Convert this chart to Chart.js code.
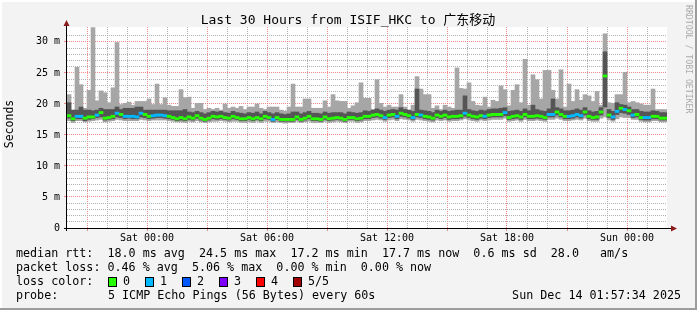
<!DOCTYPE html>
<html lang="en">
<head>
  <meta charset="UTF-8" />
  <title>Last 30 Hours from ISIF_HKC to 广东移动</title>
  <script src="https://cdn.jsdelivr.net/npm/chart.js"></script>
  <style>
    html, body { margin: 0; padding: 0; background: #f3f3f3; }
    #wrap { width: 697px; height: 310px; }
  </style>
</head>
<body>
  <div id="wrap"><canvas id="smokeChart" width="697" height="310"></canvas></div>

  <script>
    // 12-minute steps, 150 of them, starting Fri 20:00
    const stepHours = 0.2;

    const maxRtt = [
      21.5, 19.0, 25.9, 23.1, 19.3, 22.2, 32.3, 20.5, 22.1, 21.8,
      20.2, 22.6, 29.9, 19.9, 20.1, 20.3, 19.8, 20.4, 20.4, 20.4,
      20.8, 19.9, 23.2, 19.9, 21.0, 19.8, 19.6, 19.6, 22.3, 21.0,
      21.1, 19.3, 20.1, 20.1, 19.1, 19.3, 19.1, 19.3, 19.0, 20.0,
      19.3, 19.5, 19.3, 19.6, 19.1, 19.5, 19.5, 20.0, 19.3, 19.1,
      19.5, 19.5, 19.5, 19.0, 18.8, 19.5, 23.2, 19.5, 19.5, 20.8,
      20.8, 19.3, 19.3, 19.3, 20.5, 19.5, 21.5, 20.5, 20.4, 20.4,
      19.3, 19.7, 20.2, 23.4, 20.9, 20.9, 19.1, 23.9, 20.1, 19.5,
      19.8, 19.5, 19.5, 21.5, 19.5, 19.0, 19.8, 24.4, 22.4, 21.5,
      21.5, 19.3, 19.7, 19.1, 19.8, 19.5, 19.3, 25.8, 22.5, 22.4,
      23.4, 20.4, 19.8, 19.7, 21.1, 19.5, 20.6, 20.4, 22.9, 22.3,
      19.7, 22.2, 23.1, 20.2, 27.2, 19.8, 24.7, 23.9, 20.8, 25.4,
      25.4, 22.2, 20.8, 25.5, 19.5, 23.2, 20.4, 22.3, 20.6, 21.5,
      21.3, 20.4, 22.0, 19.8, 31.3, 20.2, 20.1, 21.5, 21.5, 25.1,
      20.2, 20.4, 20.2, 20.0, 19.8, 19.8, 22.4, 19.1, 19.1, 19.1
    ];

    const upperRtt = [
      20.2, 19.0, 19.0, 19.5, 19.0, 19.0, 18.9, 19.0, 19.3, 19.1,
      19.1, 19.1, 19.5, 19.1, 19.3, 19.3, 19.3, 19.5, 19.5, 19.0,
      19.0, 19.0, 19.0, 19.0, 19.0, 18.9, 18.9, 18.9, 18.9, 19.1,
      18.7, 18.6, 18.8, 18.6, 18.4, 18.6, 18.8, 18.7, 18.8, 18.6,
      18.5, 18.8, 18.6, 18.5, 18.4, 18.6, 18.5, 18.7, 18.4, 18.8,
      18.6, 18.4, 18.6, 18.4, 18.3, 18.4, 18.7, 18.7, 18.4, 18.6,
      18.8, 18.5, 18.5, 18.4, 18.7, 18.5, 18.6, 18.6, 18.6, 18.4,
      18.7, 18.6, 18.5, 18.6, 18.9, 18.8, 19.0, 19.2, 19.0, 18.8,
      19.0, 19.1, 19.0, 19.4, 19.1, 19.0, 18.8, 22.4, 19.0, 18.9,
      18.8, 18.6, 19.0, 18.8, 19.0, 18.8, 18.9, 19.0, 19.0, 21.3,
      19.1, 18.9, 18.8, 19.0, 18.9, 19.1, 19.2, 19.2, 19.3, 19.4,
      18.8, 18.9, 19.0, 18.8, 19.2, 18.9, 19.8, 19.1, 18.9, 18.8,
      19.2, 20.8, 19.4, 19.2, 18.9, 18.9, 19.0, 19.2, 19.0, 19.4,
      18.9, 18.7, 18.8, 19.4, 28.4, 19.1, 18.8, 20.2, 19.9, 19.8,
      19.5, 19.1, 19.1, 18.8, 18.7, 18.7, 18.9, 18.8, 18.6, 18.6
    ];

    const medianRtt = [
      18.1, 17.6, 18.0, 18.0, 17.7, 17.9, 17.9, 18.2, 18.6, 17.7,
      17.8, 18.0, 18.5, 18.3, 18.0, 18.0, 18.0, 17.9, 18.5, 18.3,
      18.0, 18.1, 18.2, 18.2, 18.1, 18.0, 17.8, 17.6, 17.8, 17.6,
      17.9, 17.7, 18.1, 17.7, 17.5, 17.7, 18.0, 17.9, 18.0, 17.8,
      17.7, 18.0, 17.8, 17.6, 17.6, 17.8, 17.6, 17.8, 17.6, 18.0,
      17.8, 17.5, 17.8, 17.5, 17.5, 17.5, 17.5, 17.9, 17.5, 17.7,
      18.0, 17.6, 17.6, 17.5, 17.9, 17.6, 17.7, 17.8, 17.7, 17.5,
      17.8, 17.8, 17.6, 17.7, 18.0, 18.0, 18.2, 18.3, 18.1, 17.8,
      18.2, 18.3, 18.0, 18.5, 18.3, 18.1, 17.8, 18.3, 18.2, 18.0,
      17.9, 17.7, 18.2, 18.0, 18.2, 17.9, 18.0, 18.0, 18.1, 18.5,
      18.2, 18.0, 17.9, 18.1, 18.0, 18.2, 18.3, 18.3, 18.3, 18.6,
      17.8, 18.0, 18.1, 17.9, 18.3, 18.0, 18.0, 18.1, 18.0, 17.8,
      18.3, 18.3, 18.7, 18.3, 18.0, 18.0, 18.1, 18.3, 18.1, 18.7,
      18.0, 17.8, 17.9, 18.7, 24.5, 18.2, 17.9, 18.8, 19.3, 19.1,
      18.9, 18.2, 18.3, 17.8, 17.8, 17.8, 18.0, 18.0, 17.7, 17.7
    ];

    const lowerRtt = [
      17.7, 17.3, 17.6, 17.6, 17.3, 17.5, 17.6, 17.8, 17.9, 17.4,
      17.5, 17.6, 17.9, 17.8, 17.6, 17.7, 17.6, 17.6, 17.9, 17.8,
      17.6, 17.7, 17.8, 17.8, 17.7, 17.6, 17.5, 17.3, 17.4, 17.3,
      17.5, 17.4, 17.7, 17.4, 17.2, 17.4, 17.6, 17.5, 17.6, 17.5,
      17.4, 17.6, 17.5, 17.3, 17.3, 17.5, 17.3, 17.5, 17.3, 17.6,
      17.5, 17.2, 17.5, 17.2, 17.2, 17.2, 17.2, 17.5, 17.2, 17.4,
      17.6, 17.3, 17.3, 17.2, 17.5, 17.3, 17.4, 17.5, 17.4, 17.2,
      17.5, 17.5, 17.3, 17.4, 17.6, 17.6, 17.8, 17.9, 17.7, 17.5,
      17.8, 17.9, 17.6, 18.0, 17.9, 17.7, 17.5, 17.9, 17.8, 17.6,
      17.5, 17.4, 17.8, 17.6, 17.8, 17.5, 17.6, 17.6, 17.7, 18.0,
      17.8, 17.6, 17.5, 17.7, 17.6, 17.8, 17.9, 17.9, 17.9, 18.1,
      17.5, 17.6, 17.7, 17.5, 17.9, 17.6, 17.6, 17.7, 17.6, 17.5,
      17.9, 17.9, 18.2, 17.9, 17.6, 17.6, 17.7, 17.9, 17.7, 18.2,
      17.6, 17.5, 17.5, 18.2, 19.5, 17.8, 17.5, 18.3, 18.6, 18.5,
      18.3, 17.8, 17.9, 17.5, 17.4, 17.4, 17.6, 17.6, 17.4, 17.4
    ];

    const minRtt = [
      17.3, 17.0, 17.3, 17.3, 17.1, 17.2, 17.3, 17.4, 17.5, 17.1,
      17.2, 17.3, 17.5, 17.4, 17.3, 17.3, 17.3, 17.3, 17.5, 17.4,
      17.3, 17.4, 17.4, 17.4, 17.4, 17.3, 17.2, 17.1, 17.1, 17.0,
      17.2, 17.1, 17.3, 17.1, 17.0, 17.1, 17.2, 17.2, 17.3, 17.2,
      17.1, 17.2, 17.2, 17.0, 17.0, 17.1, 17.0, 17.2, 17.0, 17.2,
      17.2, 17.0, 17.1, 17.0, 16.9, 17.0, 17.0, 17.2, 17.0, 17.1,
      17.2, 17.0, 17.0, 17.0, 17.2, 17.0, 17.1, 17.2, 17.1, 17.0,
      17.2, 17.2, 17.0, 17.1, 17.3, 17.3, 17.4, 17.5, 17.4, 17.2,
      17.4, 17.5, 17.3, 17.6, 17.5, 17.4, 17.2, 17.5, 17.4, 17.3,
      17.2, 17.1, 17.4, 17.3, 17.4, 17.2, 17.3, 17.3, 17.4, 17.6,
      17.4, 17.3, 17.2, 17.4, 17.3, 17.4, 17.5, 17.5, 17.5, 17.7,
      17.2, 17.3, 17.4, 17.2, 17.5, 17.3, 17.3, 17.4, 17.3, 17.2,
      17.5, 17.5, 17.7, 17.5, 17.3, 17.3, 17.4, 17.5, 17.4, 17.7,
      17.3, 17.2, 17.2, 17.7, 17.9, 17.4, 17.2, 17.6, 17.9, 17.8,
      17.8, 17.5, 17.5, 17.2, 17.1, 17.1, 17.3, 17.3, 17.1, 17.1
    ];

    // pings lost out of 5 for each step (colour of the median)
    const lossCount = [
      0, 0, 1, 1, 0, 0, 0, 1, 0, 0,
      0, 0, 1, 0, 1, 1, 1, 1, 1, 0,
      0, 1, 1, 1, 1, 0, 0, 0, 0, 0,
      0, 0, 0, 0, 0, 0, 0, 0, 0, 0,
      0, 0, 0, 0, 0, 0, 0, 0, 0, 0,
      0, 1, 0, 0, 0, 0, 0, 0, 0, 0,
      0, 0, 0, 0, 0, 0, 0, 0, 0, 0,
      0, 0, 0, 0, 0, 0, 0, 0, 0, 1,
      0, 0, 1, 0, 0, 0, 1, 0, 1, 0,
      0, 0, 0, 0, 0, 0, 0, 0, 0, 1,
      0, 0, 0, 0, 1, 0, 0, 0, 0, 1,
      0, 0, 0, 0, 0, 0, 0, 0, 0, 0,
      1, 1, 0, 0, 0, 1, 1, 1, 1, 0,
      0, 0, 0, 0, 0, 0, 1, 1, 0, 1,
      0, 1, 0, 0, 1, 1, 0, 0, 0, 0
    ];

    const lossColors = ["#26ff00", "#00b8ff", "#0059ff", "#7e00ff", "#ff0000", "#a10000"];
    const lossLabels = ["0", "1", "2", "3", "4", "5/5"];

    const tickHours = [4, 10, 16, 22, 28];
    const tickLabels = ["Sat 00:00", "Sat 06:00", "Sat 12:00", "Sat 18:00", "Sun 00:00"];

    const titleText = "Last 30 Hours from ISIF_HKC to 广东移动";
    const statLines = [
      "median rtt:  18.0 ms avg  24.5 ms max  17.2 ms min  17.7 ms now  0.6 ms sd  28.0   am/s",
      "packet loss: 0.46 % avg  5.06 % max  0.00 % min  0.00 % now"
    ];
    const probeText = "5 ICMP Echo Pings (56 Bytes) every 60s";
    const stampText = "Sun Dec 14 01:57:34 2025";

    const mono = "'DejaVu Sans Mono', 'Noto Sans CJK SC', monospace";
    const medianHalf = 0.18;

    const xs = medianRtt.map((_, i) => i * stepHours + stepHours / 2);
    const span = (lo, hi) => xs.map((x, i) => ({ x, y: [lo[i], hi[i]] }));

    const gridMinor = "rgba(170,170,170,0.9)";
    const gridMajor = "rgba(240,110,110,0.8)";

    // fond, cadre et textes autour du graphe
    const rrdFrame = {
      id: "rrdFrame",
      beforeDraw(chart) {
        const { ctx, chartArea: a } = chart;
        ctx.save();
        ctx.fillStyle = "#f3f3f3";
        ctx.fillRect(0, 0, chart.width, chart.height);
        ctx.fillStyle = "#ffffff";
        ctx.fillRect(0, 0, chart.width, 2);
        ctx.fillRect(0, 0, 2, chart.height);
        ctx.fillStyle = "#9c9c9c";
        ctx.fillRect(0, chart.height - 2, chart.width, 2);
        ctx.fillRect(chart.width - 2, 0, 2, chart.height);
        ctx.fillStyle = "#ffffff";
        ctx.fillRect(a.left, a.top, a.right - a.left, a.bottom - a.top);
        ctx.restore();
      },
      afterDraw(chart) {
        const { ctx, chartArea: a } = chart;
        ctx.save();

        // axes
        ctx.strokeStyle = "#000";
        ctx.lineWidth = 1;
        ctx.beginPath();
        ctx.moveTo(a.left - 3, a.bottom + 0.5);
        ctx.lineTo(a.right + 5, a.bottom + 0.5);
        ctx.moveTo(a.left - 0.5, a.bottom + 3);
        ctx.lineTo(a.left - 0.5, a.top - 4);
        ctx.stroke();
        ctx.fillStyle = "#8b1a1a";
        ctx.beginPath();
        ctx.moveTo(a.left - 3.5, a.top - 1);
        ctx.lineTo(a.left - 0.5, a.top - 7);
        ctx.lineTo(a.left + 2.5, a.top - 1);
        ctx.closePath();
        ctx.fill();
        ctx.beginPath();
        ctx.moveTo(a.right + 4, a.bottom - 2.5);
        ctx.lineTo(a.right + 10, a.bottom + 0.5);
        ctx.lineTo(a.right + 4, a.bottom + 3.5);
        ctx.closePath();
        ctx.fill();

        // titre
        ctx.fillStyle = "#000";
        ctx.textBaseline = "middle";
        ctx.textAlign = "center";
        ctx.font = "13px " + mono;
        ctx.fillText(titleText, 348, 21);

        // label vertical
        ctx.save();
        ctx.translate(10, 124);
        ctx.rotate(-Math.PI / 2);
        ctx.font = "11.5px " + mono;
        ctx.fillText("Seconds", 0, 0);
        ctx.restore();

        // credit
        ctx.save();
        ctx.translate(688, 5);
        ctx.rotate(Math.PI / 2);
        ctx.textAlign = "left";
        ctx.fillStyle = "#aaaaaa";
        ctx.font = "8.2px " + mono;
        ctx.fillText("RRDTOOL / TOBI OETIKER", 0, 0);
        ctx.restore();

        // legende
        ctx.textAlign = "left";
        ctx.font = "11.7px " + mono;
        ctx.fillText(statLines[0], 16, 254);
        ctx.fillText(statLines[1], 16, 268);
        ctx.fillText("loss color:", 16, 282);
        lossColors.forEach((c, i) => {
          const bx = 108 + i * 37;
          ctx.fillStyle = c;
          ctx.fillRect(bx, 277, 8, 9);
          ctx.strokeStyle = "#000";
          ctx.strokeRect(bx + 0.5, 277.5, 8, 9);
          ctx.fillStyle = "#000";
          ctx.fillText(lossLabels[i], bx + 15, 282);
        });
        ctx.fillText("probe:", 16, 296);
        ctx.fillText(probeText, 108, 296);
        ctx.textAlign = "right";
        ctx.fillText(stampText, 681, 296);

        ctx.restore();
      }
    };

    const ctx = document.getElementById("smokeChart").getContext("2d");

    const chart = new Chart(ctx, {
      type: "bar",
      data: {
        datasets: [
          {
            label: "median rtt",
            data: xs.map((x, i) => ({ x, y: [medianRtt[i] - medianHalf, medianRtt[i] + medianHalf] })),
            backgroundColor: lossCount.map(l => lossColors[l]),
            order: 1
          },
          {
            label: "inner smoke",
            data: span(lowerRtt, upperRtt),
            backgroundColor: "#555555",
            order: 2
          },
          {
            label: "outer smoke",
            data: span(minRtt, maxRtt),
            backgroundColor: "#a6a6a6",
            order: 3
          }
        ]
      },
      options: {
        responsive: false,
        devicePixelRatio: 1,
        animation: false,
        layout: { padding: { left: 0, top: 27, right: 30, bottom: 0 } },
        datasets: {
          bar: {
            grouped: false,
            barPercentage: 1,
            categoryPercentage: 1,
            borderWidth: 0
          }
        },
        plugins: {
          legend: { display: false },
          title: { display: false },
          tooltip: { enabled: false }
        },
        scales: {
          x: {
            type: "linear",
            min: 0,
            max: 30,
            offset: false,
            grid: {
              offset: false,
              tickLength: 3,
              color: c => {
                const v = c.tick ? c.tick.value : 0;
                if (v <= 0 || v >= 30) return "rgba(0,0,0,0)";
                return (v % 3 === 1) ? gridMajor : gridMinor;
              },
              tickColor: c => {
                const v = c.tick ? c.tick.value : 0;
                return (v % 3 === 1) ? gridMajor : "rgba(0,0,0,0)";
              }
            },
            border: { display: false, dash: [1, 1] },
            ticks: {
              stepSize: 1,
              autoSkip: false,
              maxRotation: 0,
              padding: 1,
              color: "#000",
              font: { family: mono, size: 10 },
              callback: v => {
                const k = tickHours.indexOf(v);
                return k < 0 ? "" : tickLabels[k];
              }
            },
            afterFit: s => { s.height = 82; }
          },
          y: {
            type: "linear",
            min: 0,
            max: 32.4,
            grid: {
              tickLength: 3,
              color: c => {
                const v = c.tick ? c.tick.value : 0;
                if (v <= 0 || !Number.isInteger(v)) return "rgba(0,0,0,0)";
                return (v % 5 === 0) ? gridMajor : gridMinor;
              },
              tickColor: c => {
                const v = c.tick ? c.tick.value : 0;
                return (Number.isInteger(v) && v % 5 === 0) ? gridMajor : "rgba(0,0,0,0)";
              }
            },
            border: { display: false, dash: [1, 1] },
            ticks: {
              stepSize: 1,
              autoSkip: false,
              padding: 4,
              color: "#000",
              font: { family: mono, size: 10 },
              callback: v => {
                if (!Number.isInteger(v) || v % 5 !== 0) return "";
                return v === 0 ? "0" : v + " m";
              }
            },
            afterFit: s => { s.width = 67; }
          }
        }
      },
      plugins: [rrdFrame]
    });
  </script>
</body>
</html>
